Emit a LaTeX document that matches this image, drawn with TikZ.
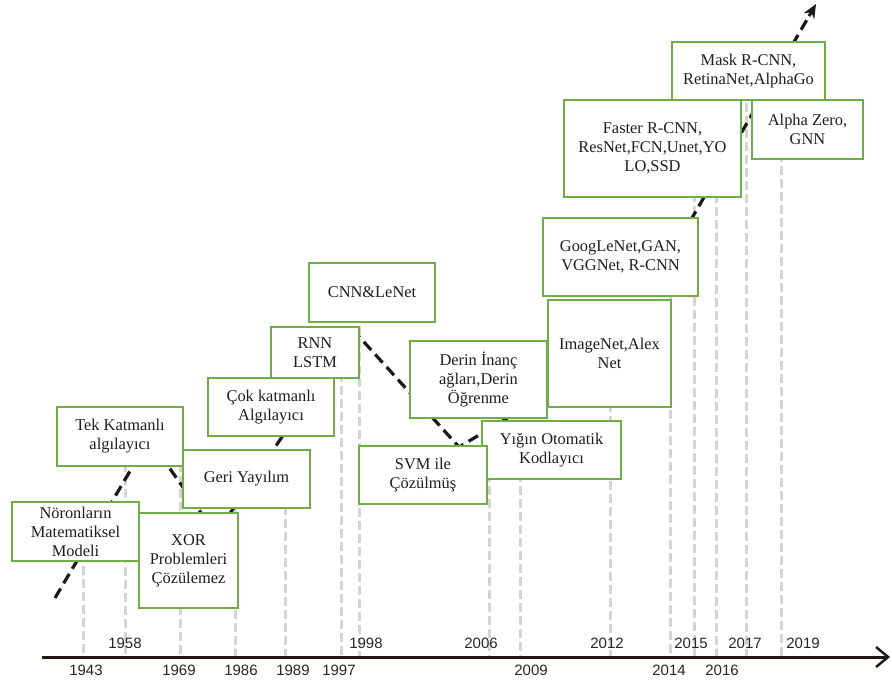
\documentclass[tikz,border=0pt]{standalone}
\usepackage{fontspec}
\setmainfont{Liberation Serif}
\newfontfamily\yearfont{Liberation Sans}
\usetikzlibrary{arrows.meta,calc}
\definecolor{boxgreen}{HTML}{70AD47}
\definecolor{guide}{HTML}{D4D4D4}
\definecolor{axiscol}{HTML}{231815}
\definecolor{txt}{HTML}{1E1E1E}
\begin{document}
\begin{tikzpicture}[x=1pt,y=-1pt,
  evbox/.style={draw=boxgreen, line width=1.7pt, fill=white, inner sep=0pt, align=center,
    text=txt, font=\fontsize{16.4}{19}\selectfont},
  guideline/.style={draw=guide, line width=3pt, dash pattern=on 9pt off 4pt},
  trend/.style={draw=black!90, line width=3.2pt, dash pattern=on 11pt off 6pt},
  yearlbl/.style={font=\yearfont\fontsize{15}{15}\selectfont, text=black!85, inner sep=0pt},
  axisline/.style={draw=axiscol, line width=3pt}]
\useasboundingbox (0,0) rectangle (892,687);

% guide lines (year markers)
\foreach \nm/\xx/\yy in {g43/83/540, g58/125/450, g69/180/450, g86/235/480, g89/285/480,
  g97/341/360, g98/359/300, g06/489/460, g09/520/460, g12/610/390, g14/670/280,
  g15/694/180, g16/716/90, g17/746/90, g19/781/140}{
  \coordinate (\nm t) at (\xx,\yy);
  \coordinate (\nm b) at (\xx,656);
  \draw[guideline] (\nm t) -- (\nm b);
}

% trend line
\coordinate (t0) at (55,598);
\coordinate (t1) at (149,439);
\coordinate (t2) at (216,534);
\coordinate (t3) at (354,331);
\coordinate (t4) at (459,447);
\coordinate (t5) at (612,356);
\coordinate (t6) at (816,4);
\coordinate (t6a) at ($(t6)!14pt!(t5)$);
\draw[trend] (t0) -- (t1) -- (t2) -- (t3) -- (t4) -- (t5) -- (t6a);
\draw[black!90, line width=3pt, -{Stealth[length=14pt,width=12pt]}] (t6a) -- (t6);

% boxes
\node[evbox, minimum width=127pt, minimum height=59pt] (b1) at (75.5,531.5) {Nöronların\\Matematiksel\\Modeli};
\node[evbox, minimum width=126pt, minimum height=59pt] (b2) at (120,436.5) {Tek Katmanlı\\algılayıcı};
\node[evbox, minimum width=99pt, minimum height=95pt] (b3) at (188.5,560.5) {XOR\\Problemleri\\Çözülemez};
\node[evbox, minimum width=127pt, minimum height=58pt] (b4) at (246.5,479) {Geri Yayılım};
\node[evbox, minimum width=126pt, minimum height=58pt] (b5) at (271,407) {Çok katmanlı\\Algılayıcı};
\node[evbox, minimum width=88pt, minimum height=51pt] (b6) at (315,352.5) {RNN\\LSTM};
\node[evbox, minimum width=126pt, minimum height=59pt] (b7) at (372,292.5) {CNN\&LeNet};
\node[evbox, minimum width=137pt, minimum height=77pt] (b8) at (478.5,379.5) {Derin İnanç\\ağları,Derin\\Öğrenme};
\node[evbox, minimum width=139pt, minimum height=58pt] (b10) at (551.5,450) {Yığın Otomatik\\Kodlayıcı};
\node[evbox, minimum width=128pt, minimum height=58pt] (b9) at (423,475) {SVM ile\\Çözülmüş};
\node[evbox, minimum width=123pt, minimum height=107pt] (b11) at (609.5,353.5) {ImageNet,Alex\\Net};
\node[evbox, minimum width=155pt, minimum height=78pt] (b12) at (620.5,257) {GoogLeNet,GAN,\\VGGNet, R-CNN};
\node[evbox, minimum width=153pt, minimum height=58pt] (b14) at (748.5,71) {Mask R-CNN,\\RetinaNet,AlphaGo};
\node[evbox, minimum width=177pt, minimum height=97pt] (b13) at (652.5,148.5) {Faster R-CNN,\\ResNet,FCN,Unet,YO\\LO,SSD};
\node[evbox, minimum width=111pt, minimum height=59pt] (b15) at (807.5,129.5) {Alpha Zero,\\GNN};

% axis
\coordinate (ax0) at (42,657);
\coordinate (ax1) at (890,657);
\draw[axisline, -{Straight Barb[length=12pt,width=20pt,line width=2.5pt]}] (ax0) -- (ax1);

% year labels above axis
\node[yearlbl] (y58) at (125,643) {1958};
\node[yearlbl] (y98) at (366,643) {1998};
\node[yearlbl] (y06) at (481,643) {2006};
\node[yearlbl] (y12) at (607,643) {2012};
\node[yearlbl] (y15) at (691,643) {2015};
\node[yearlbl] (y17) at (745,643) {2017};
\node[yearlbl] (y19) at (803,643) {2019};
% year labels below axis
\node[yearlbl] (y43) at (86,670) {1943};
\node[yearlbl] (y69) at (179,670) {1969};
\node[yearlbl] (y86) at (241,670) {1986};
\node[yearlbl] (y89) at (293,670) {1989};
\node[yearlbl] (y97) at (339,670) {1997};
\node[yearlbl] (y09) at (531,670) {2009};
\node[yearlbl] (y14) at (669,670) {2014};
\node[yearlbl] (y16) at (722,670) {2016};
\end{tikzpicture}
\end{document}
